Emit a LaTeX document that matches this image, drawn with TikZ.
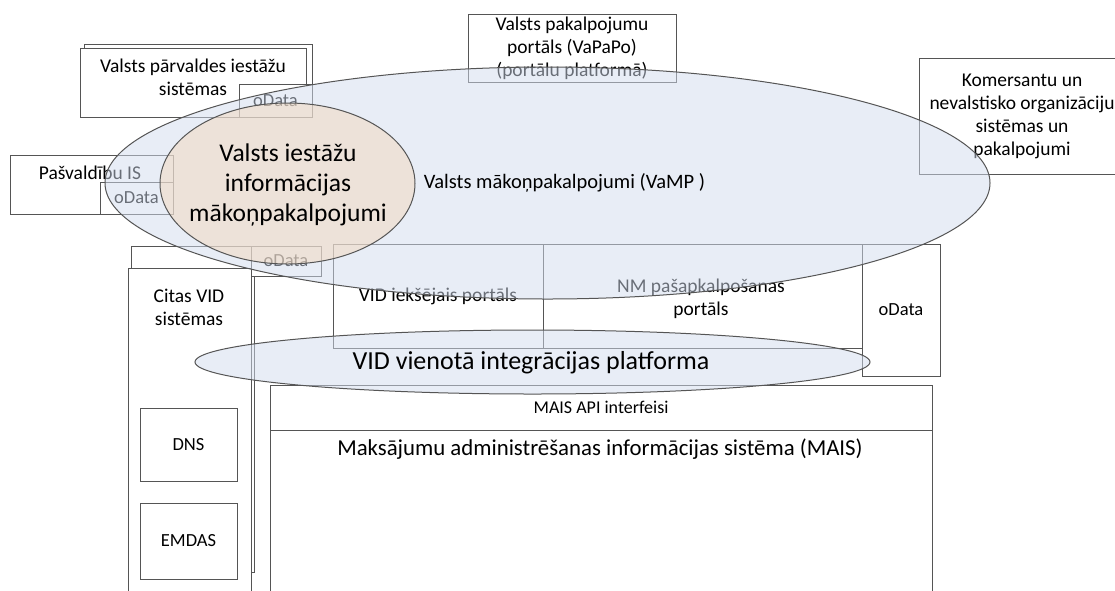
\documentclass[tikz,border=0pt]{standalone}
\usepackage{fontspec}
\setmainfont{Carlito}
\usetikzlibrary{shapes.geometric}
\definecolor{lineg}{RGB}{85,85,85}
\definecolor{vampblue}{RGB}{211,221,239}
\definecolor{tanc}{RGB}{243,216,189}
\tikzset{
  x=1pt, y=-1pt,
  box/.style={draw=lineg, line width=1pt, fill=white, inner sep=0pt, rectangle},
  lbl/.style={inner sep=0pt, align=center, font=\fontsize{19.5}{23}\selectfont},
  slbl/.style={inner sep=0pt, align=center, font=\fontsize{18.5}{23}\selectfont},
  ell/.style={ellipse, draw=lineg, line width=1pt, inner sep=0pt, fill opacity=0.5, draw opacity=1},
}
\begin{document}
\begin{tikzpicture}
\clip (0,0) rectangle (1115,590);
\fill[white] (0,0) rectangle (1115,590);
% --- boxes (drawn first, later faded by the ellipses) ---
\node[box, minimum width=228, minimum height=73] (vpback) at (198,80.5) {};
\node[box, minimum width=226, minimum height=69] (vp) at (193,82.5) {};
\node[lbl] (vpt) at (193,77) {Valsts pārvaldes iestāžu\\sistēmas};
\node[box, minimum width=73, minimum height=33, slbl] (vpod) at (275.5,100.5) {oData};
\node[box, minimum width=208, minimum height=68, lbl] (vapapo) at (572,48) {Valsts pakalpojumu\\portāls (VaPaPo)\\(portālu platformā)};
\node[box, minimum width=206, minimum height=116] (kom) at (1022,116) {};
\node[lbl] (komt) at (1022,116) {Komersantu un\\nevalstisko organizāciju\\sistēmas un\\pakalpojumi};
\node[box, minimum width=163, minimum height=59] (pasv) at (91.5,184.5) {};
\node[lbl] (pasvt) at (90,173) {Pašvaldību IS};
\node[box, minimum width=73, minimum height=32, slbl] (pasvod) at (136.5,198) {oData};
\node[box, minimum width=123, minimum height=326] (citasback) at (192.5,409) {};
\node[box, minimum width=123, minimum height=342] (citas) at (189.5,439) {};
\node[lbl] (citast) at (189,307) {Citas VID\\sistēmas};
\node[box, minimum width=70, minimum height=30, slbl] (citasod) at (286,261) {oData};
\node[box, minimum width=97, minimum height=73, slbl] (dns) at (188.5,444.5) {DNS};
\node[box, minimum width=97, minimum height=76, slbl] (emdas) at (188.5,541) {EMDAS};
\node[box, minimum width=210, minimum height=104, lbl] (vidp) at (438,296) {VID iekšējais portāls};
\node[box, minimum width=319, minimum height=104] (nm) at (702.5,296) {};
\node[lbl] (nmt) at (701,299) {NM pašapkalpošanas\\portāls};
\node[box, minimum width=78, minimum height=132, slbl] (rod) at (901,310) {oData};
\node[box, minimum width=662, minimum height=45, font=\fontsize{18}{22}\selectfont] (api) at (601,407.5) {MAIS API interfeisi};
\node[box, minimum width=662, minimum height=180] (mais) at (601,520) {};
\node[lbl, font=\fontsize{22.8}{26}\selectfont] (maist) at (600,449) {Maksājumu administrēšanas informācijas sistēma (MAIS)};
% --- ellipses (semi-transparent overlays) ---
\node[ell, fill=vampblue, minimum width=885, minimum height=232] (vamp) at (547.5,183) {};
\node[ell, fill=tanc, minimum width=255, minimum height=161] (viim) at (287.5,183.5) {};
\node[ell, fill=vampblue, minimum width=675, minimum height=64] (vidint) at (532.5,362) {};
% --- ellipse labels ---
\node[lbl, font=\fontsize{25.5}{30}\selectfont] (viimt) at (288,185) {Valsts iestāžu\\informācijas\\mākoņpakalpojumi};
\node[lbl, font=\fontsize{20.5}{24}\selectfont] (vampt) at (564.5,183) {Valsts mākoņpakalpojumi (VaMP )};
\node[lbl, font=\fontsize{26}{30}\selectfont] (vidintt) at (531,363) {VID vienotā integrācijas platforma};
\end{tikzpicture}
\end{document}
